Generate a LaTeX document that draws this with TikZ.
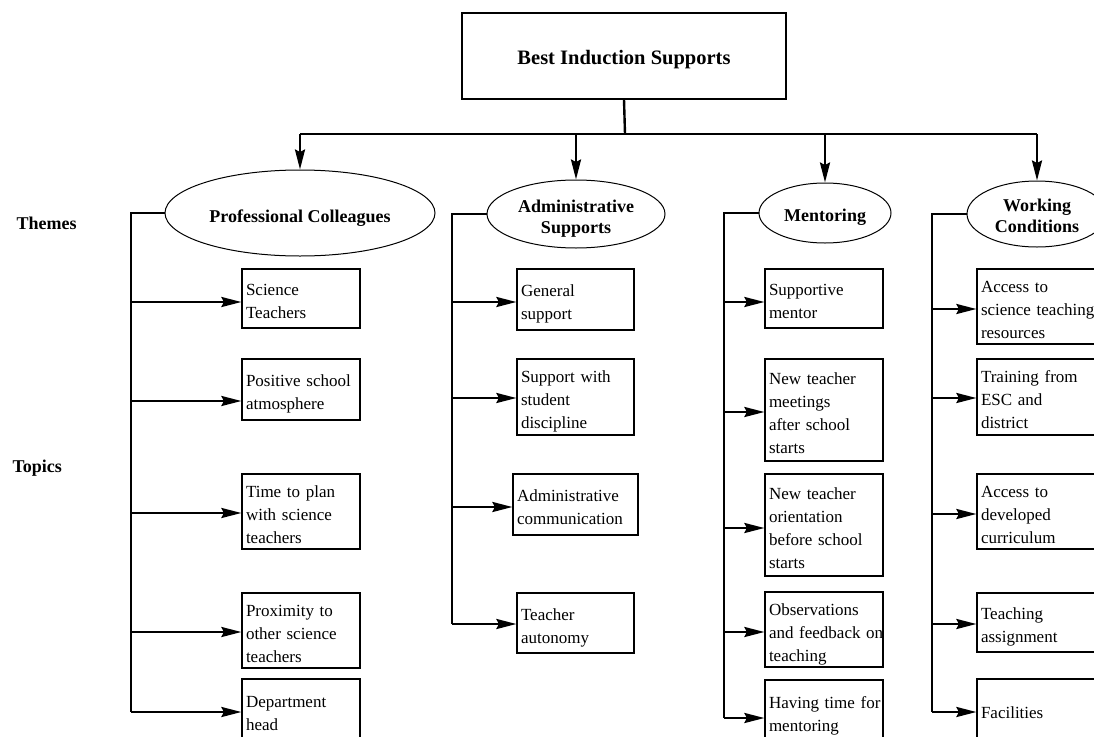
\documentclass[tikz,border=0pt]{standalone}
\usepackage{fontspec}
\setmainfont{Liberation Serif}
\usetikzlibrary{shapes.geometric,arrows.meta}

% lower node text a little without changing the node size
\newcommand{\lowered}[2]{\raisebox{-#1}[\height][\depth]{#2}}

% topic box: name, left x, top y, width, height, lines
\newcommand{\topicbox}[6]{%
  \node[topic, text width=\dimexpr#4pt-8pt\relax, minimum height=#5pt]
    (#1) at ({#2+#4/2},{#3+#5/2})
    {\lowered{4pt}{\begin{tabular}{@{}l@{}}#6\end{tabular}}};}

\begin{document}
\begin{tikzpicture}[x=1pt,y=-1pt,
  conn/.style={line width=2.4pt},
  arr/.style={conn,-{Stealth[length=20pt,width=10pt,inset=2.5pt]}},
  topic/.style={draw,line width=1.2pt,rectangle,align=left,inner xsep=4pt,
    inner ysep=0pt,font=\fontsize{17}{23}\selectfont},
  theme/.style={draw,ellipse,line width=1pt,inner sep=0pt,
    font=\bfseries\fontsize{18}{22}\selectfont},
  side/.style={font=\bfseries\fontsize{18}{22}\selectfont}]
\useasboundingbox (0,0) rectangle (1094,736);

% root
\node[draw,line width=1.2pt,minimum width=324pt,minimum height=86pt,
  font=\bfseries\fontsize{20.5}{24}\selectfont] (root) at (624,56)
  {\lowered{4pt}{Best Induction Supports}};

% themes
\node[theme,minimum width=270pt,minimum height=86pt] (pc) at (300,213)
  {\lowered{5pt}{Professional Colleagues}};
\node[theme,minimum width=178pt,minimum height=68pt] (as) at (576,214)
  {\lowered{5pt}{\begin{tabular}{@{}c@{}}Administrative\\[-1pt]Supports\end{tabular}}};
\node[theme,minimum width=132pt,minimum height=60pt] (me) at (825,213)
  {\lowered{4pt}{Mentoring}};
\node[theme,minimum width=140pt,minimum height=66pt] (wc) at (1037,214)
  {\lowered{4pt}{\begin{tabular}{@{}c@{}}Working\\[-1pt]Conditions\end{tabular}}};

% row labels
\node[side,anchor=west] (themes) at (13,223) {Themes};
\node[side,anchor=west] (topics) at (9,468) {Topics};

% root to themes
\coordinate (bus) at (625,134);
\draw[conn] (root.south) -- (bus);
\draw[conn] (pc.north |- bus) -- (wc.north |- bus);
\foreach \t in {pc,as,me,wc} \draw[arr] (\t.north |- bus) -- (\t.north);

% spines
\coordinate (s1) at (131,0);
\coordinate (s2) at (452,0);
\coordinate (s3) at (724,0);
\coordinate (s4) at (932,0);

% Professional Colleagues
\topicbox{c1a}{242}{269}{118}{59}{Science\\Teachers}
\topicbox{c1b}{242}{359}{118}{61}{Positive school\\atmosphere}
\topicbox{c1c}{242}{474}{118}{75}{Time to plan\\with science\\teachers}
\topicbox{c1d}{242}{593}{118}{75}{Proximity to\\other science\\teachers}
\topicbox{c1e}{242}{679}{118}{62}{Department\\head}
\draw[conn] (pc.west) -- (pc.west -| s1) -- (s1 |- 0,712);
\draw[arr] (s1 |- 0,302) -- (c1a.west |- 0,302);
\draw[arr] (s1 |- 0,401) -- (c1b.west |- 0,401);
\draw[arr] (s1 |- 0,513) -- (c1c.west |- 0,513);
\draw[arr] (s1 |- 0,632) -- (c1d.west |- 0,632);
\draw[arr] (s1 |- 0,712) -- (c1e.west |- 0,712);

% Administrative Supports
\topicbox{c2a}{517}{269}{117}{61}{General\\support}
\topicbox{c2b}{517}{359}{117}{76}{Support with\\student\\discipline}
\topicbox{c2c}{513}{474}{125}{61}{Administrative\\communication}
\topicbox{c2d}{517}{593}{117}{60}{Teacher\\autonomy}
\draw[conn] (as.west) -- (as.west -| s2) -- (s2 |- 0,624);
\draw[arr] (s2 |- 0,302) -- (c2a.west |- 0,302);
\draw[arr] (s2 |- 0,398) -- (c2b.west |- 0,398);
\draw[arr] (s2 |- 0,507) -- (c2c.west |- 0,507);
\draw[arr] (s2 |- 0,624) -- (c2d.west |- 0,624);

% Mentoring
\topicbox{c3a}{765}{269}{118}{59}{Supportive\\mentor}
\topicbox{c3b}{765}{359}{118}{102}{New teacher\\meetings\\after school\\starts}
\topicbox{c3c}{765}{474}{118}{102}{New teacher\\orientation\\before school\\starts}
\topicbox{c3d}{765}{592}{118}{75}{Observations\\and feedback on\\teaching}
\topicbox{c3e}{765}{680}{118}{62}{Having time for\\mentoring}
\draw[conn] (me.west) -- (me.west -| s3) -- (s3 |- 0,718);
\draw[arr] (s3 |- 0,302) -- (c3a.west |- 0,302);
\draw[arr] (s3 |- 0,412) -- (c3b.west |- 0,412);
\draw[arr] (s3 |- 0,528) -- (c3c.west |- 0,528);
\draw[arr] (s3 |- 0,632) -- (c3d.west |- 0,632);
\draw[arr] (s3 |- 0,718) -- (c3e.west |- 0,718);

% Working Conditions
\topicbox{c4a}{977}{269}{118}{75}{Access to\\science teaching\\resources}
\topicbox{c4b}{977}{359}{118}{76}{Training from\\ESC and\\district}
\topicbox{c4c}{977}{474}{118}{75}{Access to\\developed\\curriculum}
\topicbox{c4d}{977}{593}{118}{59}{Teaching\\assignment}
\topicbox{c4e}{977}{679}{118}{62}{Facilities}
\draw[conn] (wc.west) -- (wc.west -| s4) -- (s4 |- 0,712);
\draw[arr] (s4 |- 0,309) -- (c4a.west |- 0,309);
\draw[arr] (s4 |- 0,398) -- (c4b.west |- 0,398);
\draw[arr] (s4 |- 0,514) -- (c4c.west |- 0,514);
\draw[arr] (s4 |- 0,624) -- (c4d.west |- 0,624);
\draw[arr] (s4 |- 0,712) -- (c4e.west |- 0,712);
\end{tikzpicture}
\end{document}
